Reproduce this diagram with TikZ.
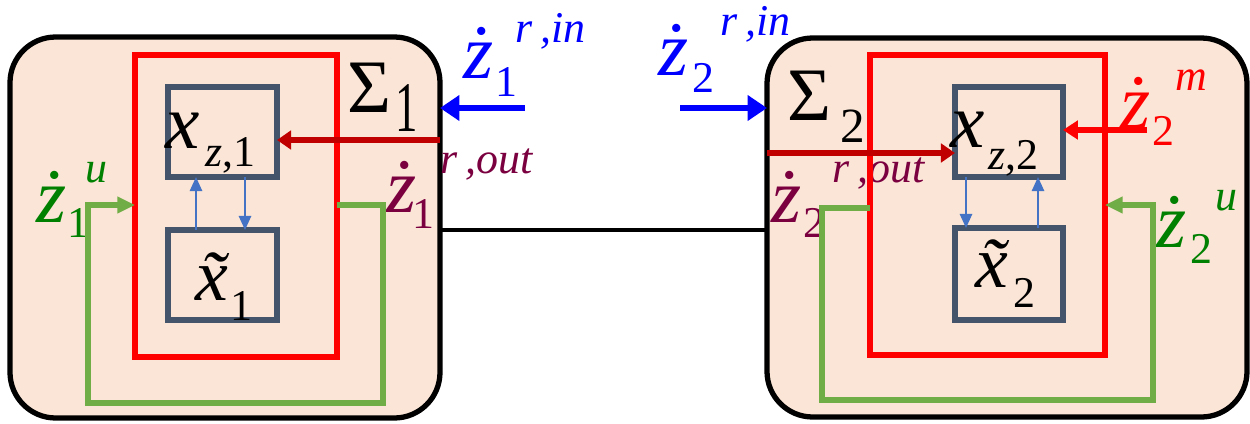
\documentclass[tikz,border=0pt]{standalone}
\usepackage{fontspec}
\setmainfont{Liberation Serif}
\newfontfamily\tnr{Liberation Serif}
\usetikzlibrary{fit,arrows.meta}
\newdimen\px \px=0.56905pt
\newcommand{\fsz}[1]{\fontsize{#1}{#1}\selectfont}
\newcommand{\subat}[3]{\rlap{\hspace*{#1\px}\raisebox{-#2\px}{#3}}}
\newcommand{\supat}[3]{\rlap{\hspace*{#1\px}\raisebox{#2\px}{#3}}}
\newcommand{\mainat}[1]{\rlap{#1}}
\definecolor{peach}{HTML}{FBE5D6}
\definecolor{redc}{HTML}{FF0000}
\definecolor{darkredc}{HTML}{C00000}
\definecolor{slate}{HTML}{44546A}
\definecolor{lightblue}{HTML}{4472C4}
\definecolor{greenl}{HTML}{70AD47}
\definecolor{greent}{HTML}{008000}
\definecolor{purp}{HTML}{7A0040}
\definecolor{bluec}{HTML}{0000FF}
\begin{document}
\begin{tikzpicture}[x=0.02cm,y=-0.02cm,
  sysbox/.style={draw=black, line width=3pt, fill=peach, rounded corners=26pt, inner sep=0pt, outer sep=0pt},
  redbox/.style={draw=redc, line width=3.2pt, inner sep=0pt, outer sep=0pt},
  statebox/.style={draw=slate, line width=3pt, inner sep=0pt, outer sep=0pt},
  lbl/.style={anchor=base west, inner sep=0pt, outer sep=0pt, font=\tnr},
  bigblue/.style={draw=bluec, line width=3.8pt, -{Triangle[length=11pt,width=14pt]}},
  darkredarrow/.style={draw=darkredc, line width=3pt, -{Triangle[length=8pt,width=10.5pt]}},
  redarrow/.style={draw=redc, line width=3pt, -{Triangle[length=8.5pt,width=10.5pt]}},
  smallblue/.style={draw=lightblue, line width=1pt, -{Triangle[length=8pt,width=7pt]}},
  greenloop/.style={draw=greenl, line width=3pt, -{Triangle[length=10pt,width=9pt]}},
  linkline/.style={draw=black, line width=2.8pt}
]
\useasboundingbox (0,0) rectangle (1250,423);
% outer systems
\node (sys1) [sysbox, fit={(10,37) (440,418)}] {};
\node (sys2) [sysbox, fit={(767,38) (1247,417)}] {};
% state boxes
\node (xz1) [statebox, fit={(168,87) (277,177)}] {};
\node (xt1) [statebox, fit={(168,230) (277,320)}] {};
\node (xz2) [statebox, fit={(955,87) (1063,177)}] {};
\node (xt2) [statebox, fit={(955,228) (1063,320)}] {};
% labels
\node (lsig1) [lbl] at (347,112) {\mainat{\fsz{43pt}Σ}\subat{48}{20}{\scalebox{0.85}[1.35]{\fsz{30pt}1}}};
\node (lsig2) [lbl] at (787,120) {\mainat{\fsz{43pt}Σ}\subat{53}{23}{\fsz{28pt}2}};
\node (lxz1) [lbl] at (165,148) {\mainat{\fsz{44pt}\itshape x}\subat{40}{19}{\fsz{25pt}\itshape z\upshape ,1}};
\node (lxz2) [lbl] at (950,147) {\mainat{\fsz{44pt}\itshape x}\subat{38}{23}{\fsz{25pt}\itshape z\upshape ,2}};
\node (lxt1) [lbl] at (195,300) {\mainat{\fsz{42pt}\itshape \~{x}}\subat{35}{20}{\fsz{25pt}1}};
\node (lxt2) [lbl] at (975,287) {\mainat{\fsz{42pt}\itshape \~{x}}\subat{38}{20}{\fsz{25pt}2}};
\node (lin1) [lbl, text=bluec] at (463,78) {\mainat{\fsz{44pt}\itshape ż}\subat{32}{19}{\fsz{25pt}1}\supat{52}{36}{\fsz{25pt}\itshape r\,,in}};
\node (lin2) [lbl, text=bluec] at (658,75) {\mainat{\fsz{44pt}\itshape ż}\subat{34}{17}{\fsz{25pt}2}\supat{62}{40}{\fsz{25pt}\itshape r\,,in}};
\node (lout1) [lbl, text=purp] at (386,212) {\mainat{\fsz{44pt}\itshape ż}\subat{26}{16}{\fsz{25pt}1}\supat{54}{39}{\fsz{25pt}\itshape r\,,out}};
\node (lout2) [lbl, text=purp] at (771,222) {\mainat{\fsz{44pt}\itshape ż}\subat{32}{15}{\fsz{25pt}2}\supat{61}{40}{\fsz{25pt}\itshape r\,,out}};
\node (lu1) [lbl, text=greent] at (36,222) {\mainat{\fsz{44pt}\itshape ż}\subat{31}{15}{\fsz{25pt}1}\supat{49}{40}{\fsz{25pt}\itshape u}};
\node (lu2) [lbl, text=greent] at (1156,247) {\mainat{\fsz{44pt}\itshape ż}\subat{34}{16}{\fsz{25pt}2}\supat{59}{37}{\fsz{25pt}\itshape u}};
\node (lm2) [lbl, text=redc] at (1120,128) {\mainat{\fsz{44pt}\itshape ż}\subat{32}{17}{\fsz{25pt}2}\supat{55}{38}{\fsz{25pt}\itshape m}};
% red boundaries
\node (red1) [redbox, fit={(135,55) (337,357)}] {};
\node (red2) [redbox, fit={(870,55) (1105,355)}] {};
% connectors
\coordinate (b1s) at (525,108);
\coordinate (b2s) at (680,108);
\draw[bigblue] (b1s) -- (b1s -| sys1.east);
\draw[bigblue] (b2s) -- (b2s -| sys2.west);
\coordinate (lk) at (600,230);
\draw[linkline] (lk -| sys1.east) -- (lk -| sys2.west);
\coordinate (r1) at (440,140);
\draw[darkredarrow] (r1) -- (r1 -| xz1.east);
\coordinate (r2) at (767,153);
\draw[darkredarrow] (r2) -- (r2 -| xz2.west);
\coordinate (r3) at (1147,130);
\draw[redarrow] (r3) -- (r3 -| xz2.east);
\coordinate (ua1) at (196,0);
\coordinate (da1) at (245,0);
\draw[smallblue] (ua1 |- xt1.north) -- (ua1 |- xz1.south);
\draw[smallblue] (da1 |- xz1.south) -- (da1 |- xt1.north);
\coordinate (da2) at (966,0);
\coordinate (ua2) at (1038,0);
\draw[smallblue] (da2 |- xz2.south) -- (da2 |- xt2.north);
\draw[smallblue] (ua2 |- xt2.north) -- (ua2 |- xz2.south);
\coordinate (g1a) at (383,205);
\coordinate (g1b) at (88,403);
\draw[greenloop] (g1a -| red1.east) -- (g1a) |- (g1b) |- (g1a -| red1.west);
\coordinate (g2a) at (822,208);
\coordinate (g2b) at (1153,400);
\coordinate (g2c) at (1153,205);
\draw[greenloop] (g2a -| red2.west) -- (g2a) |- (g2b) -- (g2c) -- (g2c -| red2.east);
\end{tikzpicture}
\end{document}
